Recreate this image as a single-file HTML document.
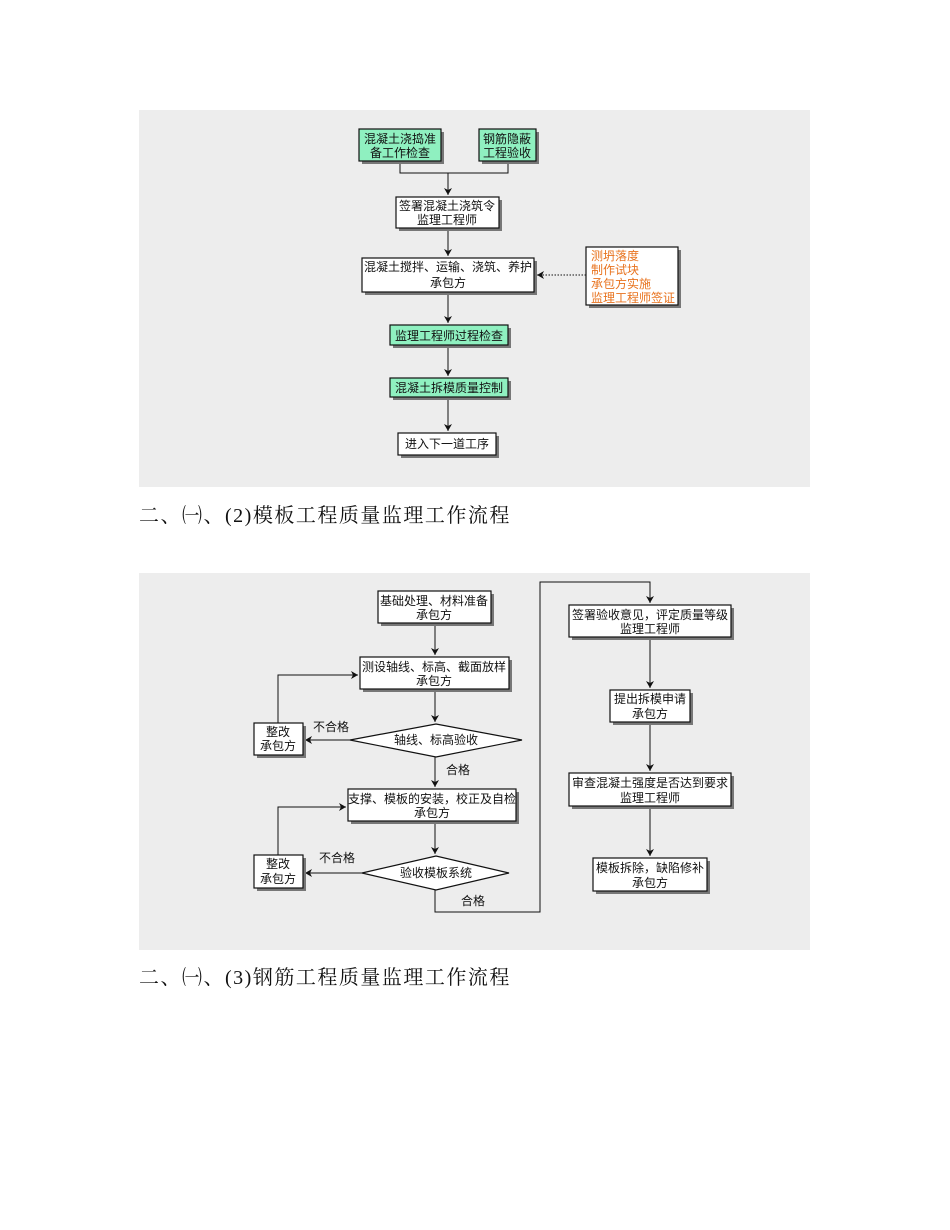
<!DOCTYPE html>
<html><head><meta charset="utf-8"><style>
html,body{margin:0;padding:0;background:#fff;width:950px;height:1230px;overflow:hidden}
svg{display:block}
.t{font-family:"Liberation Sans","Noto Sans CJK SC",sans-serif;font-size:12px;fill:#111;text-anchor:middle}
.o{font-family:"Liberation Sans","Noto Sans CJK SC",sans-serif;font-size:12px;fill:#e8731e}
.cap{font-family:"Liberation Serif","Noto Serif CJK SC",serif;font-size:20px;fill:#111;letter-spacing:1.5px}
.b{fill:#fff;stroke:#111;stroke-width:1.2}
.g{fill:#8ff0c0;stroke:#111;stroke-width:1.2}
.s{fill:#777}
.l{stroke:#111;stroke-width:1;fill:none}
</style></head><body>
<svg width="950" height="1230" xmlns="http://www.w3.org/2000/svg">
<defs>
<marker id="a" markerWidth="8" markerHeight="8" refX="7" refY="4" orient="auto" markerUnits="userSpaceOnUse"><path d="M0,0 L7,4 L0,8 L2,4 Z" fill="#111"/></marker>
</defs>
<rect x="139" y="110" width="671" height="377" fill="#ededed"/>
<rect x="139" y="573" width="671" height="377" fill="#ededed"/>

<path class="l" d="M400,161 V173 H508 V161 M448,173 V195" marker-end="url(#a)"/>
<path class="l" d="M448,228 V256" marker-end="url(#a)"/>
<path class="l" d="M448,292 V323" marker-end="url(#a)"/>
<path class="l" d="M448,345 V376" marker-end="url(#a)"/>
<path class="l" d="M448,397 V431" marker-end="url(#a)"/>
<path class="l" d="M586,275 H537" stroke-dasharray="1.5,1.5" marker-end="url(#a)"/>

<rect class="s" x="362" y="132" width="82" height="32"/><rect class="g" x="359" y="129" width="82" height="32"/>
<text class="t" x="400" y="143">混凝土浇捣准</text><text class="t" x="400" y="157">备工作检查</text>
<rect class="s" x="482" y="132" width="57" height="32"/><rect class="g" x="479" y="129" width="57" height="32"/>
<text class="t" x="507" y="143">钢筋隐蔽</text><text class="t" x="507" y="157">工程验收</text>
<rect class="s" x="399" y="200" width="103" height="31"/><rect class="b" x="396" y="197" width="103" height="31"/>
<text class="t" x="447" y="210">签署混凝土浇筑令</text><text class="t" x="447" y="224">监理工程师</text>
<rect class="s" x="365" y="261" width="172" height="34"/><rect class="b" x="362" y="258" width="172" height="34"/>
<text class="t" x="448" y="271">混凝土搅拌、运输、浇筑、养护</text><text class="t" x="448" y="287">承包方</text>
<rect class="s" x="589" y="250" width="92" height="58"/><rect class="b" x="586" y="247" width="92" height="58"/>
<text class="o" x="591" y="260">测坍落度</text><text class="o" x="591" y="274">制作试块</text><text class="o" x="591" y="288">承包方实施</text><text class="o" x="591" y="302">监理工程师签证</text>
<rect class="s" x="393" y="328" width="118" height="20"/><rect class="g" x="390" y="325" width="118" height="20"/>
<text class="t" x="449" y="340">监理工程师过程检查</text>
<rect class="s" x="393" y="381" width="118" height="19"/><rect class="g" x="390" y="378" width="118" height="19"/>
<text class="t" x="449" y="392">混凝土拆模质量控制</text>
<rect class="s" x="401" y="436" width="98" height="22"/><rect class="b" x="398" y="433" width="98" height="22"/>
<text class="t" x="447" y="448">进入下一道工序</text>

<text class="cap" x="139" y="522">二、㈠、(2)模板工程质量监理工作流程</text>

<path class="l" d="M435,623 V655" marker-end="url(#a)"/>
<path class="l" d="M435,689 V722" marker-end="url(#a)"/>
<path class="l" d="M435,757 V787" marker-end="url(#a)"/>
<path class="l" d="M435,821 V854" marker-end="url(#a)"/>
<path class="l" d="M350,740 H305" marker-end="url(#a)"/>
<path class="l" d="M362,873 H305" marker-end="url(#a)"/>
<path class="l" d="M278,723 V675 H358" marker-end="url(#a)"/>
<path class="l" d="M278,855 V807 H346" marker-end="url(#a)"/>
<path class="l" d="M435,890 V912 H540 V582 H650 V603" marker-end="url(#a)"/>
<path class="l" d="M650,637 V688" marker-end="url(#a)"/>
<path class="l" d="M650,722 V771" marker-end="url(#a)"/>
<path class="l" d="M650,806 V856" marker-end="url(#a)"/>

<rect class="s" x="381" y="594" width="113" height="32"/><rect class="b" x="378" y="591" width="113" height="32"/>
<text class="t" x="434" y="605">基础处理、材料准备</text><text class="t" x="434" y="619">承包方</text>
<rect class="s" x="363" y="660" width="149" height="32"/><rect class="b" x="360" y="657" width="149" height="32"/>
<text class="t" x="434" y="671">测设轴线、标高、截面放样</text><text class="t" x="434" y="685">承包方</text>
<path class="b" d="M350,740 L436,724 L522,740 L436,757 Z"/>
<text class="t" x="436" y="744">轴线、标高验收</text>
<rect class="s" x="257" y="726" width="49" height="32"/><rect class="b" x="254" y="723" width="49" height="32"/>
<text class="t" x="278" y="736">整改</text><text class="t" x="278" y="750">承包方</text>
<text class="t" x="331" y="731">不合格</text>
<text class="t" x="458" y="774">合格</text>
<rect class="s" x="351" y="792" width="168" height="32"/><rect class="b" x="348" y="789" width="168" height="32"/>
<text class="t" x="432" y="803">支撑、模板的安装，校正及自检</text><text class="t" x="432" y="817">承包方</text>
<path class="b" d="M362,873 L436,856 L509,873 L436,890 Z"/>
<text class="t" x="436" y="877">验收模板系统</text>
<rect class="s" x="257" y="858" width="49" height="33"/><rect class="b" x="254" y="855" width="49" height="33"/>
<text class="t" x="278" y="868">整改</text><text class="t" x="278" y="883">承包方</text>
<text class="t" x="337" y="862">不合格</text>
<text class="t" x="473" y="905">合格</text>

<rect class="s" x="572" y="608" width="162" height="32"/><rect class="b" x="569" y="605" width="162" height="32"/>
<text class="t" x="650" y="619">签署验收意见，评定质量等级</text><text class="t" x="650" y="633">监理工程师</text>
<rect class="s" x="613" y="693" width="80" height="32"/><rect class="b" x="610" y="690" width="80" height="32"/>
<text class="t" x="650" y="703">提出拆模申请</text><text class="t" x="650" y="718">承包方</text>
<rect class="s" x="572" y="776" width="162" height="33"/><rect class="b" x="569" y="773" width="162" height="33"/>
<text class="t" x="650" y="787">审查混凝土强度是否达到要求</text><text class="t" x="650" y="802">监理工程师</text>
<rect class="s" x="596" y="861" width="114" height="33"/><rect class="b" x="593" y="858" width="114" height="33"/>
<text class="t" x="650" y="872">模板拆除，缺陷修补</text><text class="t" x="650" y="887">承包方</text>

<text class="cap" x="139" y="984">二、㈠、(3)钢筋工程质量监理工作流程</text>
</svg>
</body></html>
